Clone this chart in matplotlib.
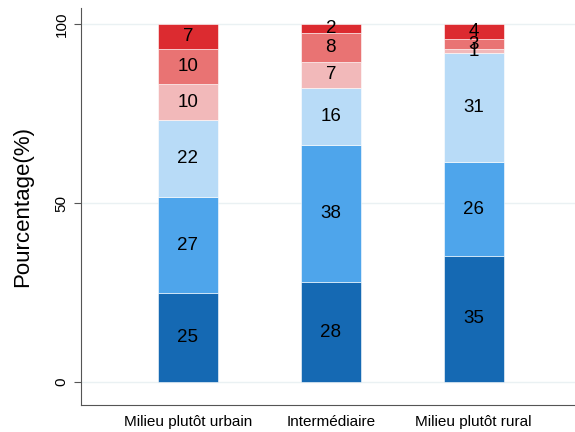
import numpy as np
import matplotlib.pyplot as plt

plt.rcParams['font.family'] = ['Liberation Sans', 'DejaVu Sans']

# data (segment heights, labels are the rounded values)
categories = ['Milieu plutôt urbain', 'Intermédiaire', 'Milieu plutôt rural']
seg1 = [24.9, 28.0, 35.3]
seg2 = [26.8, 38.2, 26.1]
seg3 = [21.6, 16.1, 30.5]
seg4 = [9.9, 7.3, 1.2]
seg5 = [9.8, 8.0, 2.7]
seg6 = [7.0, 2.4, 4.2]
lab1 = [25, 28, 35]
lab2 = [27, 38, 26]
lab3 = [22, 16, 31]
lab4 = [10, 7, 1]
lab5 = [10, 8, 3]
lab6 = [7, 2, 4]

colors = ['#1569b3', '#4ea5eb', '#b8dbf7', '#f2b9ba', '#e97373', '#dc2b30']

fig = plt.figure(figsize=(5.75, 4.32), dpi=100)
ax = fig.add_axes([0.141, 0.0625, 0.859, 0.9185])

x = np.arange(1, len(categories) + 1)
bottom = np.zeros(len(categories))
for vals, labs, col in zip([seg1, seg2, seg3, seg4, seg5, seg6],
                           [lab1, lab2, lab3, lab4, lab5, lab6], colors):
    vals = np.array(vals)
    ax.bar(x, vals, width=0.42, bottom=bottom, color=col,
           edgecolor='white', linewidth=0.4, zorder=3)
    for xi, b, v, l in zip(x, bottom, vals, labs):
        ax.text(xi, b + v / 2, str(l), ha='center', va='center',
                fontsize=13.5, color='black', zorder=4)
    bottom += vals

for g in [0, 50, 100]:
    ax.axhline(g, color='#eaf1f3', linewidth=1, zorder=1)

ax.set_xlim(0.252, 3.71)
ax.set_ylim(-6.4, 104.5)
ax.set_yticks([0, 50, 100])
ax.set_yticklabels(['0', '50', '100'], rotation=90, va='center', fontsize=11)
ax.set_xticks(x)
ax.set_xticklabels(categories, fontsize=11)
ax.tick_params(axis='x', length=0, pad=7)
ax.tick_params(axis='y', length=5, color='#555555', pad=4)
ax.set_ylabel('Pourcentage(%)', fontsize=16, va='center')
ax.yaxis.set_label_coords(-0.119, 0.5)

for s in ['top', 'right']:
    ax.spines[s].set_visible(False)
for s in ['left', 'bottom']:
    ax.spines[s].set_color('#555555')

fig.savefig('out.png', dpi=100)
